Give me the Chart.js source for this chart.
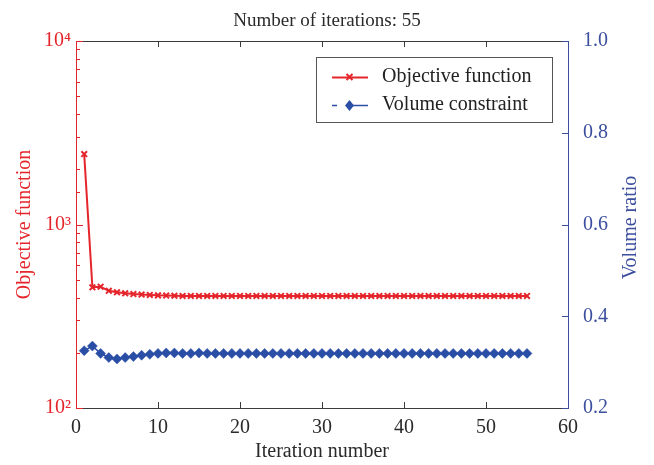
<!DOCTYPE html>
<html>
<head>
<meta charset="utf-8">
<script src="https://cdn.jsdelivr.net/npm/chart.js@4/dist/chart.umd.min.js"></script>
<style>
  html, body { margin: 0; padding: 0; background: #fff; }
  #wrap { width: 654px; height: 465px; }
</style>
</head>
<body>
<div id="wrap"><canvas id="c" width="654" height="465"></canvas></div>
<script>
const chartTitle = 'Number of iterations: 55';
const xTitle = 'Iteration number';
const yLeftTitle = 'Objective function';
const yRightTitle = 'Volume ratio';
const seriesNames = ['Objective function', 'Volume constraint'];

const iterations = [1,2,3,4,5,6,7,8,9,10,11,12,13,14,15,16,17,18,19,20,21,22,23,24,25,26,27,28,29,30,31,32,33,34,35,36,37,38,39,40,41,42,43,44,45,46,47,48,49,50,51,52,53,54,55];
const objective = [2420,455,458,435,427,422,418,415,413,411,410,409,408,408,408,408,408,408,408,408,408,408,408,408,408,408,408,408,408,408,408,408,408,408,408,408,408,408,408,408,408,408,408,408,408,408,408,408,408,408,408,408,408,408,408];
const volume = [0.325,0.335,0.319,0.310,0.307,0.310,0.312,0.315,0.317,0.319,0.320,0.320,0.319,0.319,0.320,0.319,0.319,0.319,0.319,0.319,0.319,0.319,0.319,0.319,0.319,0.319,0.319,0.319,0.319,0.319,0.319,0.319,0.319,0.319,0.319,0.319,0.319,0.319,0.319,0.319,0.319,0.319,0.319,0.319,0.319,0.319,0.319,0.319,0.319,0.319,0.319,0.319,0.319,0.319,0.319];

const xTicks = [0,10,20,30,40,50,60];
const leftTicks = [100,1000,10000];
const rightTicks = [0.2,0.4,0.6,0.8,1.0];

const RED = '#e4262c';
const BLUE = '#2a4ea6';
const BLUE_AXIS = '#3c4f9e';
const DARK = '#3a3a3a';
const FONT = "'Liberation Serif', 'Times New Roman', serif";

const sup = {'0':'⁰','1':'¹','2':'²','3':'³','4':'⁴','5':'⁵','6':'⁶','7':'⁷','8':'⁸','9':'⁹'};
function isPow10(v) { const e = Math.log10(v); return Math.abs(e - Math.round(e)) < 1e-9; }

const decor = {
  id: 'decor',
  afterDraw(chart) {
    const {ctx, chartArea: ca, scales} = chart;
    ctx.save();
    ctx.lineWidth = 1;
    // top border
    ctx.strokeStyle = DARK;
    ctx.beginPath();
    ctx.moveTo(ca.left, Math.round(ca.top) + 0.5);
    ctx.lineTo(ca.right, Math.round(ca.top) + 0.5);
    ctx.stroke();
    // x ticks (bottom and top, inward)
    const xs = scales.x;
    xs.ticks.forEach(t => {
      const px = Math.round(xs.getPixelForValue(t.value)) + 0.5;
      if (px <= ca.left + 1 || px >= ca.right - 1) return;
      ctx.beginPath();
      ctx.moveTo(px, ca.bottom); ctx.lineTo(px, ca.bottom - 6);
      ctx.moveTo(px, ca.top); ctx.lineTo(px, ca.top + 6);
      ctx.stroke();
    });
    // left log ticks
    const yl = scales.y;
    ctx.strokeStyle = RED;
    yl.ticks.forEach(t => {
      const py = Math.round(yl.getPixelForValue(t.value)) + 0.5;
      const len = isPow10(t.value) ? 7 : 4;
      ctx.beginPath();
      ctx.moveTo(ca.left, py); ctx.lineTo(ca.left + len, py);
      ctx.stroke();
    });
    // right ticks
    const yr = scales.y1;
    ctx.strokeStyle = BLUE_AXIS;
    yr.ticks.forEach(t => {
      const py = Math.round(yr.getPixelForValue(t.value)) + 0.5;
      ctx.beginPath();
      ctx.moveTo(ca.right, py); ctx.lineTo(ca.right - 6, py);
      ctx.stroke();
    });
    // right axis title (reads bottom to top)
    ctx.save();
    ctx.fillStyle = BLUE_AXIS;
    ctx.font = '20px ' + FONT;
    ctx.textAlign = 'center';
    ctx.textBaseline = 'middle';
    ctx.translate(631, (ca.top + ca.bottom) / 2 + 3);
    ctx.rotate(-Math.PI / 2);
    ctx.fillText(yRightTitle, 0, 0);
    ctx.restore();
    // legend
    const lx = 316, ly = 57, lw = 236, lh = 65;
    ctx.fillStyle = '#fff';
    ctx.fillRect(lx, ly, lw, lh);
    ctx.strokeStyle = '#555';
    ctx.strokeRect(lx + 0.5, ly + 0.5, lw, lh);
    ctx.font = '20px ' + FONT;
    ctx.fillStyle = '#222';
    ctx.textAlign = 'left';
    ctx.textBaseline = 'middle';
    const r1 = 77, r2 = 105;
    ctx.fillText(seriesNames[0], 382, r1);
    ctx.fillText(seriesNames[1], 382, r2);
    // red sample
    ctx.strokeStyle = RED; ctx.lineWidth = 2;
    ctx.beginPath(); ctx.moveTo(332, r1 + 0.5); ctx.lineTo(368, r1 + 0.5); ctx.stroke();
    ctx.beginPath();
    ctx.moveTo(346.5, r1 - 3); ctx.lineTo(352.5, r1 + 3);
    ctx.moveTo(352.5, r1 - 3); ctx.lineTo(346.5, r1 + 3);
    ctx.stroke();
    // blue sample
    ctx.lineWidth = 1.5;
    ctx.strokeStyle = BLUE; ctx.fillStyle = BLUE;
    ctx.beginPath(); ctx.moveTo(332, r2 + 0.5); ctx.lineTo(337, r2 + 0.5); ctx.stroke();
    ctx.beginPath(); ctx.moveTo(353, r2 + 0.5); ctx.lineTo(368, r2 + 0.5); ctx.stroke();
    ctx.beginPath();
    ctx.moveTo(349.5, r2 - 5); ctx.lineTo(354, r2 + 0.5); ctx.lineTo(349.5, r2 + 6); ctx.lineTo(345, r2 + 0.5);
    ctx.closePath(); ctx.fill();
    ctx.restore();
  }
};

new Chart(document.getElementById('c'), {
  type: 'line',
  data: {
    datasets: [
      {
        label: seriesNames[0],
        data: iterations.map((x, i) => ({x, y: objective[i]})),
        yAxisID: 'y',
        borderColor: RED,
        backgroundColor: RED,
        borderWidth: 2,
        pointStyle: 'crossRot',
        pointRadius: 4,
        pointBorderWidth: 2,
        pointBorderColor: RED,
        tension: 0,
        fill: false
      },
      {
        label: seriesNames[1],
        data: iterations.map((x, i) => ({x, y: volume[i]})),
        yAxisID: 'y1',
        borderColor: BLUE,
        backgroundColor: BLUE,
        borderWidth: 1.5,
        pointStyle: 'rectRot',
        pointRadius: 5,
        pointBorderWidth: 0.5,
        pointBorderColor: BLUE,
        pointBackgroundColor: BLUE,
        tension: 0,
        fill: false
      }
    ]
  },
  options: {
    responsive: false,
    animation: false,
    layout: { padding: 0 },
    plugins: {
      legend: { display: false },
      tooltip: { enabled: false },
      title: {
        display: true,
        text: chartTitle,
        color: '#2a2a2a',
        font: { family: FONT, size: 19, weight: 'normal' },
        padding: { top: 10, bottom: 8.2 }
      }
    },
    scales: {
      x: {
        type: 'linear',
        position: 'bottom',
        min: 0, max: 60,
        afterBuildTicks: s => { s.ticks = xTicks.map(v => ({value: v})); },
        afterFit: s => { s.height = 57; },
        grid: { display: false, drawTicks: false },
        border: { display: true, color: DARK, width: 1 },
        ticks: {
          color: '#2a2a2a', padding: 8, maxRotation: 0, minRotation: 0,
          font: { family: FONT, size: 20 }
        },
        title: {
          display: true, text: xTitle, color: '#2a2a2a',
          font: { family: FONT, size: 20 }, padding: { top: 0, bottom: 1 }
        }
      },
      y: {
        type: 'logarithmic',
        position: 'left',
        min: 100, max: 10000,
        afterFit: s => { s.width = 76; },
        grid: { display: false, drawTicks: false },
        border: { display: true, color: RED, width: 1 },
        ticks: {
          color: RED, padding: 5, autoSkip: false,
          font: { family: FONT, size: 20 },
          callback: v => isPow10(v) ? '10' + String(Math.round(Math.log10(v))).split('').map(c => sup[c]).join('') : ''
        },
        title: {
          display: true, text: yLeftTitle, color: RED,
          font: { family: FONT, size: 20 }, padding: { top: 13, bottom: 0 }
        }
      },
      y1: {
        type: 'linear',
        position: 'right',
        min: 0.2, max: 1.0,
        afterBuildTicks: s => { s.ticks = rightTicks.map(v => ({value: v})); },
        afterFit: s => { s.width = 86; },
        grid: { display: false, drawTicks: false },
        border: { display: true, color: BLUE_AXIS, width: 1 },
        ticks: {
          color: BLUE_AXIS, padding: 15,
          font: { family: FONT, size: 20 },
          callback: v => Number(v).toFixed(1)
        }
      }
    }
  },
  plugins: [decor]
});
</script>
</body>
</html>
